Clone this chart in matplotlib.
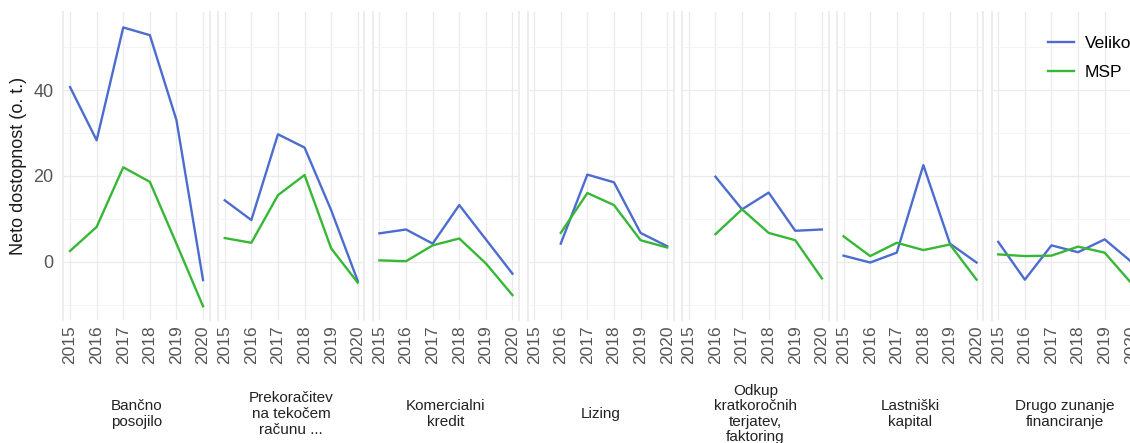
import numpy as np
import matplotlib
matplotlib.use('Agg')
import matplotlib.pyplot as plt

plt.rcParams['font.family'] = ['Liberation Sans', 'DejaVu Sans']

years = [2015, 2016, 2017, 2018, 2019, 2020]
categories = ['Bančno\nposojilo',
              'Prekoračitev\nna tekočem\nračunu ...',
              'Komercialni\nkredit',
              'Lizing',
              'Odkup\nkratkoročnih\nterjatev,\nfaktoring',
              'Lastniški\nkapital',
              'Drugo zunanje\nfinanciranje']
nan = np.nan
veliko = [[40.7, 28.3, 54.6, 52.8, 33.0, -4.3],
          [14.3, 9.7, 29.7, 26.6, 12.0, -4.5],
          [6.6, 7.5, 4.2, 13.2, 5.2, -2.8],
          [nan, 4.2, 20.3, 18.5, 6.7, 3.6],
          [nan, 19.8, 12.2, 16.1, 7.2, 7.5],
          [1.4, -0.2, 2.1, 22.5, 4.2, -0.2],
          [4.6, -4.2, 3.8, 2.2, 5.2, 0.0]]
msp = [[2.5, 8.1, 22.0, 18.6, 4.2, -10.4],
       [5.5, 4.4, 15.5, 20.2, 3.1, -4.9],
       [0.3, 0.1, 3.8, 5.4, -0.4, -7.8],
       [nan, 6.7, 16.0, 13.2, 5.0, 3.3],
       [nan, 6.4, 12.2, 6.7, 5.0, -3.9],
       [5.9, 1.3, 4.4, 2.7, 4.0, -4.2],
       [1.7, 1.3, 1.4, 3.5, 2.1, -5.0]]
series_names = ['Veliko', 'MSP']
series_colors = ['#4c6ccf', '#36b836']

W, H = 1130, 443
fig = plt.figure(figsize=(W / 100, H / 100), dpi=100)

left0, step, pw = 63.4, 154.7, 146.3
top, bottom = 12, 320
GRID = '#ebebeb'

for i, cat in enumerate(categories):
    x0 = left0 + i * step
    ax = fig.add_axes([x0 / W, 1 - bottom / H, pw / W, (bottom - top) / H])
    ax.plot(years, veliko[i], color=series_colors[0], lw=1.7, label=series_names[0])
    ax.plot(years, msp[i], color=series_colors[1], lw=1.7, label=series_names[1])
    ax.set_xlim(2014.75, 2020.25)
    ax.set_ylim(-13.6, 58.2)
    ax.set_xticks(years)
    ax.set_xticklabels([str(y) for y in years], rotation=90, fontsize=12.5,
                       color='#555555')
    ax.set_yticks([0, 20, 40])
    ax.set_yticks([-10, 10, 30, 50], minor=True)
    ax.set_xticks([], minor=True)
    ax.grid(True, which='major', color=GRID, lw=0.9)
    ax.grid(True, which='minor', axis='y', color='#f3f3f3', lw=0.6)
    ax.set_axisbelow(True)
    ax.tick_params(which='both', length=0)
    ax.tick_params(axis='x', pad=4)
    ax.tick_params(axis='y', labelsize=13, labelcolor='#555555', pad=7)
    for s in ['top', 'bottom']:
        ax.spines[s].set_visible(False)
    for s in ['left', 'right']:
        ax.spines[s].set_color('#ededed')
        ax.spines[s].set_linewidth(1.4)
    if i > 0:
        ax.set_yticklabels([])
    else:
        ax.set_ylabel('Neto dostopnost (o. t.)', fontsize=13, labelpad=5,
                      color='#1a1a1a')
    fig.text((x0 + pw / 2) / W, 1 - 414 / H, cat, ha='center', va='center',
             fontsize=11, color='#222222', linespacing=1.15)
    if i == len(categories) - 1:
        fig.legend(*ax.get_legend_handles_labels(), loc='center left',
                   bbox_to_anchor=(1048 / W, 1 - 58 / H), frameon=False,
                   fontsize=12.5, handlelength=1.5, handletextpad=0.6,
                   labelspacing=0.75, borderpad=0, borderaxespad=0)

fig.savefig('out.png', dpi=100, facecolor='white')
